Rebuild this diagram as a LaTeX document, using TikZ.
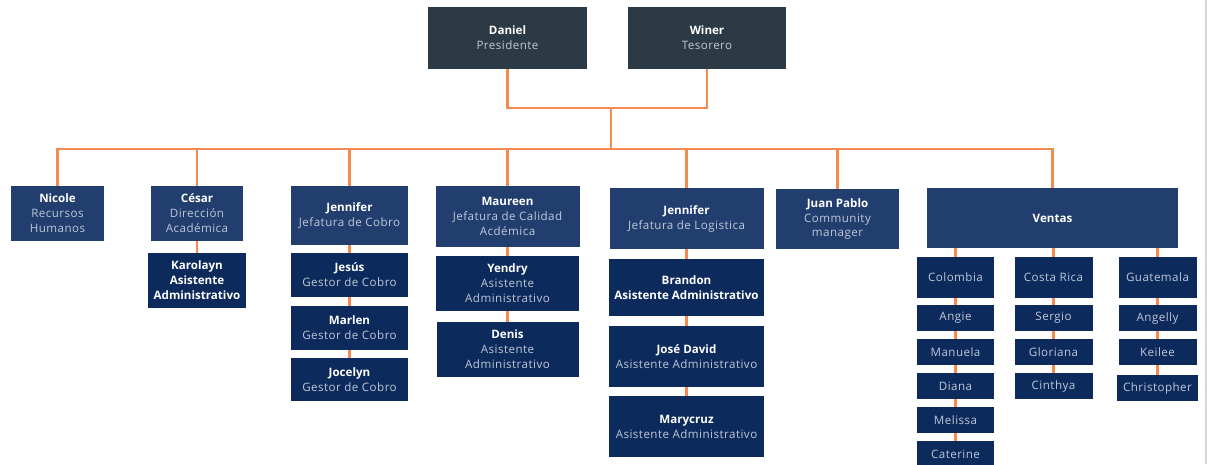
\documentclass[tikz,border=0pt]{standalone}
\usepackage{fontspec}
\setmainfont{Open Sans}
\definecolor{chiefgray}{HTML}{2C3A45}
\definecolor{headblue}{HTML}{213E6F}
\definecolor{staffblue}{HTML}{0C2A5C}
\definecolor{linkorange}{HTML}{F38A50}
\definecolor{roletext}{HTML}{BFC8D6}
\newcommand{\role}[1]{{\addfontfeature{LetterSpace=4}\color{roletext}#1}}

\begin{document}
\begin{tikzpicture}[
	x=0.02cm, y=-0.02cm,
	unit/.style={ draw=none, inner sep=0pt, align=center, text=white, font=\fontsize{6.6}{8.5}\selectfont },
	chief/.style={ unit, fill=chiefgray },
	head/.style={ unit, fill=headblue },
	staff/.style={ unit, fill=staffblue },
	cell/.style={ staff },
	box/.style 2 args={ minimum width=#1*0.02cm, minimum height=#2*0.02cm },
	link/.style={ draw=linkorange, line width=1.2pt }
]
\useasboundingbox (0,0) rectangle (1212,464);

\node at (507.5,38) (daniel) [chief,box={159}{62}] {\textbf{Daniel}\\\role{Presidente}};
\node at (707,38) (winer) [chief,box={158}{62}] {\textbf{Winer}\\\role{Tesorero}};

\node at (57.5,213.5) (nicole) [head,box={93}{55}] {\textbf{Nicole}\\\role{Recursos}\\\role{Humanos}};
\node at (197,213.5) (cesar) [head,box={92}{55}] {\textbf{César}\\\role{Dirección}\\\role{Académica}};
\node at (197,280.5) (karolayn) [staff,box={98}{55}] {\textbf{Karolayn}\\\textbf{Asistente}\\\textbf{Administrativo}};

\node at (349.5,215.5) (jefcobro) [head,box={117}{59}] {\textbf{Jennifer}\\\role{Jefatura de Cobro}};
\node at (349.5,275) (jesus) [staff,box={117}{44}] {\textbf{Jesús}\\\role{Gestor de Cobro}};
\node at (349.5,328) (marlen) [staff,box={117}{44}] {\textbf{Marlen}\\\role{Gestor de Cobro}};
\node at (349.5,379.5) (jocelyn) [staff,box={117}{43}] {\textbf{Jocelyn}\\\role{Gestor de Cobro}};

\node at (507.5,216.5) (maureen) [head,box={144}{61}] {\textbf{Maureen}\\\role{Jefatura de Calidad}\\\role{Acdémica}};
\node at (507.5,283.5) (yendry) [staff,box={143}{55}] {\textbf{Yendry}\\\role{Asistente}\\\role{Administrativo}};
\node at (507.5,349.5) (denis) [staff,box={142}{55}] {\textbf{Denis}\\\role{Asistente}\\\role{Administrativo}};

\node at (686.5,218.5) (jeflog) [head,box={154}{61}] {\textbf{Jennifer}\\\role{Jefatura de Logistica}};
\node at (686.5,287.5) (brandon) [staff,box={155}{57}] {\textbf{Brandon}\\\textbf{Asistente Administrativo}};
\node at (686.5,356.5) (josedavid) [staff,box={155}{61}] {\textbf{José David}\\\role{Asistente Administrativo}};
\node at (686.5,426.5) (marycruz) [staff,box={155}{61}] {\textbf{Marycruz}\\\role{Asistente Administrativo}};

\node at (837.5,219) (juanpablo) [head,box={123}{60}] {\textbf{Juan Pablo}\\\role{Community}\\\role{manager}};

\node at (1052.5,218) (ventas) [head,box={251}{60}] {\textbf{Ventas}};
\node at (955.5,277.5) (colombia) [cell,box={77}{41}] {\role{Colombia}};
\node at (955.5,318) (angie) [cell,box={77}{26}] {\role{Angie}};
\node at (955.5,352) (manuela) [cell,box={77}{26}] {\role{Manuela}};
\node at (955.5,386) (diana) [cell,box={77}{26}] {\role{Diana}};
\node at (955.5,420) (melissa) [cell,box={77}{26}] {\role{Melissa}};
\node at (955.5,454) (caterine) [cell,box={77}{26}] {\role{Caterine}};
\node at (1053.5,277.5) (costarica) [cell,box={78}{41}] {\role{Costa Rica}};
\node at (1053.5,318) (sergio) [cell,box={78}{26}] {\role{Sergio}};
\node at (1053.5,352) (gloriana) [cell,box={78}{26}] {\role{Gloriana}};
\node at (1053.5,386) (cinthya) [cell,box={78}{26}] {\role{Cinthya}};
\node at (1157.5,277.5) (guatemala) [cell,box={78}{41}] {\role{Guatemala}};
\node at (1157.5,318) (angelly) [cell,box={78}{26}] {\role{Angelly}};
\node at (1157.5,352) (keilee) [cell,box={78}{26}] {\role{Keilee}};
\node at (1157.5,388) (christopher) [cell,box={81}{26}] {\role{Christopher}};

% top level to the bus
\coordinate (join) at (611,108);
\coordinate (hub) at (611,149);
\draw[link] (daniel.south) |- (join) -| (winer.south);
\draw[link] (join) -- (hub);
\foreach \c in {nicole,cesar,jefcobro,maureen,jeflog,juanpablo,ventas} \draw[link] (hub) -| (\c.north);

% columns
\foreach \a/\b in {cesar/karolayn,jefcobro/jesus,jesus/marlen,marlen/jocelyn,maureen/yendry,yendry/denis,jeflog/brandon,brandon/josedavid,josedavid/marycruz}
	\draw[link] (\a.south) -- (\b.north);
\foreach \c in {colombia,costarica,guatemala} \draw[link] (ventas.south -| \c.north) -- (\c.north);
\foreach \a/\b in {colombia/angie,angie/manuela,manuela/diana,diana/melissa,melissa/caterine,costarica/sergio,sergio/gloriana,gloriana/cinthya,guatemala/angelly,angelly/keilee,keilee/christopher}
	\draw[link] (\a.south) -- (\b.north);

\draw[black!15,line width=0.6pt] (1206,0) -- (1206,464);

\end{tikzpicture}
\end{document}
